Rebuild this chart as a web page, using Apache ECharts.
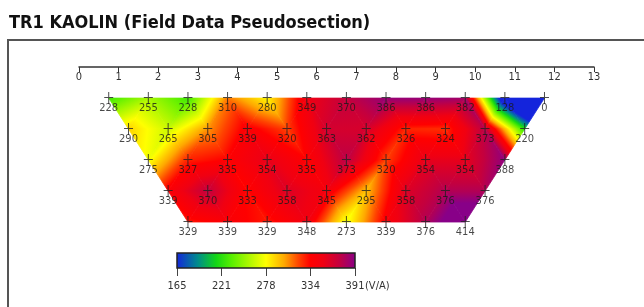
<!DOCTYPE html>
<html>
<head>
<meta charset="utf-8" />
<script src="https://cdn.jsdelivr.net/npm/echarts@6/dist/echarts.min.js"></script>
<style>html,body{margin:0;padding:0;background:#fff}#main{width:644px;height:307px}</style>
</head>
<body>
<div id="main"></div>
<script>
// apparent resistance readings, one array per pseudosection level
var row1 = [228, 255, 228, 310, 280, 349, 370, 386, 386, 382, 128, 0];
var row2 = [290, 265, 305, 339, 320, 363, 362, 326, 324, 373, 220];
var row3 = [275, 327, 335, 354, 335, 373, 320, 354, 354, 388];
var row4 = [339, 370, 333, 358, 345, 295, 358, 376, 376];
var row5 = [329, 339, 329, 348, 273, 339, 376, 414];
var rowStart = [0.75, 1.25, 1.75, 2.25, 2.75]; // x of first midpoint per level
var rowLevel = [1, 2, 3, 4, 5];
var scaleLabels = ['165', '221', '278', '334', '391'];
var scaleUnit = '(V/A)';
var colorMap = [
    [165, '#1424dc'], [192, '#008c8c'], [215, '#12d616'], [235, '#5af000'],
    [278, '#ffff00'], [301, '#ffa800'], [319, '#ff4400'], [334, '#ff0000'],
    [350, '#f00012'], [370, '#c4003e'], [391, '#880088']
];

var rows = [row1, row2, row3, row4, row5];
var narrow = "'Liberation Sans Narrow', 'DejaVu Sans Condensed', sans-serif";
var vMin = colorMap[0][0], vMax = colorMap[colorMap.length - 1][0];

function hex(c) { return [parseInt(c.substr(1, 2), 16), parseInt(c.substr(3, 2), 16), parseInt(c.substr(5, 2), 16)]; }
function colorAt(v) {
    v = Math.max(vMin, Math.min(vMax, v));
    for (var i = 1; i < colorMap.length; i++) {
        if (v <= colorMap[i][0]) {
            var a = hex(colorMap[i - 1][1]), b = hex(colorMap[i][1]);
            var t = (v - colorMap[i - 1][0]) / (colorMap[i][0] - colorMap[i - 1][0]);
            return 'rgb(' + Math.round(a[0] + (b[0] - a[0]) * t) + ',' + Math.round(a[1] + (b[1] - a[1]) * t) + ',' + Math.round(a[2] + (b[2] - a[2]) * t) + ')';
        }
    }
    return colorMap[colorMap.length - 1][1];
}

// points for the crosses / labels
var points = [];
rows.forEach(function (r, k) {
    r.forEach(function (v, i) { points.push([rowStart[k] + i, rowLevel[k], v]); });
});

// triangles of the lattice between neighbouring levels
var tris = [];
function pt(k, i) { return [rowStart[k] + i, rowLevel[k], rows[k][i]]; }
for (var k = 0; k < rows.length - 1; k++) {
    for (var i = 0; i < rows[k].length - 1; i++) tris.push([].concat(pt(k, i), pt(k, i + 1), pt(k + 1, i)));
    for (var j = 0; j < rows[k + 1].length - 1; j++) tris.push([].concat(pt(k + 1, j), pt(k + 1, j + 1), pt(k, j + 1)));
}

function renderTri(params, api) {
    var p = [], v = [];
    for (var t = 0; t < 3; t++) {
        p.push(api.coord([api.value(3 * t), api.value(3 * t + 1)]));
        v.push(api.value(3 * t + 2));
    }
    var vs = Math.min(v[0], v[1], v[2]), ve = Math.max(v[0], v[1], v[2]);
    var fill;
    if (ve - vs < 1e-6) {
        fill = colorAt(vs);
    } else {
        var e1 = [p[1][0] - p[0][0], p[1][1] - p[0][1]], e2 = [p[2][0] - p[0][0], p[2][1] - p[0][1]];
        var d1 = v[1] - v[0], d2 = v[2] - v[0];
        var det = e1[0] * e2[1] - e1[1] * e2[0];
        var gx = (d1 * e2[1] - d2 * e1[1]) / det, gy = (d2 * e1[0] - d1 * e2[0]) / det;
        var g2 = gx * gx + gy * gy;
        var sa = (vs - v[0]) / g2, sb = (ve - v[0]) / g2;
        var stops = [{offset: 0, color: colorAt(vs)}];
        colorMap.forEach(function (c) {
            if (c[0] > vs && c[0] < ve) stops.push({offset: (c[0] - vs) / (ve - vs), color: c[1]});
        });
        stops.push({offset: 1, color: colorAt(ve)});
        fill = new echarts.graphic.LinearGradient(p[0][0] + gx * sa, p[0][1] + gy * sa, p[0][0] + gx * sb, p[0][1] + gy * sb, stops, true);
    }
    return {type: 'polygon', shape: {points: p}, style: {fill: fill, stroke: fill, lineWidth: 0.8}};
}

function renderBar(params, api) {
    var a = api.coord([api.value(0), 1]), b = api.coord([api.value(1), 0]);
    var stops = colorMap.map(function (c) { return {offset: (c[0] - vMin) / (vMax - vMin), color: c[1]}; });
    return {
        type: 'rect',
        shape: {x: a[0], y: a[1], width: b[0] - a[0], height: b[1] - a[1]},
        style: {fill: new echarts.graphic.LinearGradient(0, 0, 1, 0, stops), stroke: '#222', lineWidth: 1.5}
    };
}

var myChart = echarts.init(document.getElementById('main'));
myChart.setOption({
    animation: false,
    title: {
        text: 'TR1 KAOLIN (Field Data Pseudosection)',
        left: 4, top: 9,
        textStyle: {fontSize: 18, fontWeight: 'bold', fontFamily: narrow, color: '#111'}
    },
    graphic: [
        {type: 'polyline', shape: {points: [[644, 40], [8, 40], [8, 307]]}, style: {stroke: '#555', lineWidth: 2, fill: null}},
        {type: 'text', left: 365, top: 281, style: {text: scaleUnit, font: '11px ' + narrow, fill: '#333'}}
    ],
    grid: [
        {left: 79, right: 50, top: 64, bottom: 23},
        {left: 177, right: 289, top: 253, height: 15}
    ],
    xAxis: [
        {
            type: 'value', gridIndex: 0, position: 'top', min: 0, max: 13, interval: 1,
            splitLine: {show: false},
            axisLine: {lineStyle: {color: '#333', width: 1.5}},
            axisTick: {inside: true, length: 5, lineStyle: {color: '#333'}},
            axisLabel: {inside: true, margin: 8, fontSize: 11, fontFamily: narrow, color: '#333'}
        },
        {
            type: 'value', gridIndex: 1, min: 0, max: 4, interval: 1,
            splitLine: {show: false},
            axisLine: {show: false},
            axisTick: {length: 8, lineStyle: {color: '#444'}},
            axisLabel: {margin: 13, fontSize: 11, fontFamily: narrow, color: '#333',
                formatter: function (v) { return scaleLabels[v]; }}
        }
    ],
    yAxis: [
        {type: 'value', gridIndex: 0, inverse: true, min: -0.1, max: 7, show: false},
        {type: 'value', gridIndex: 1, min: 0, max: 1, show: false}
    ],
    series: [
        {type: 'custom', xAxisIndex: 0, yAxisIndex: 0, data: tris, renderItem: renderTri, silent: true,
            encode: {x: [0, 3, 6], y: [1, 4, 7]}},
        {type: 'scatter', xAxisIndex: 0, yAxisIndex: 0, data: points, silent: true,
            symbol: 'path://M4,0L5,0L5,12L4,12Z M0,5L9,5L9,6L0,6Z', symbolSize: [9, 12],
            itemStyle: {color: '#222'},
            label: {show: true, position: 'bottom', distance: -1, fontSize: 11, fontFamily: narrow, color: '#1a1a1a',
                formatter: function (p) { return p.value[2]; }}},
        {type: 'custom', xAxisIndex: 1, yAxisIndex: 1, data: [[0, 4]], renderItem: renderBar, silent: true,
            encode: {x: [0, 1]}}
    ]
});
</script>
</body>
</html>
